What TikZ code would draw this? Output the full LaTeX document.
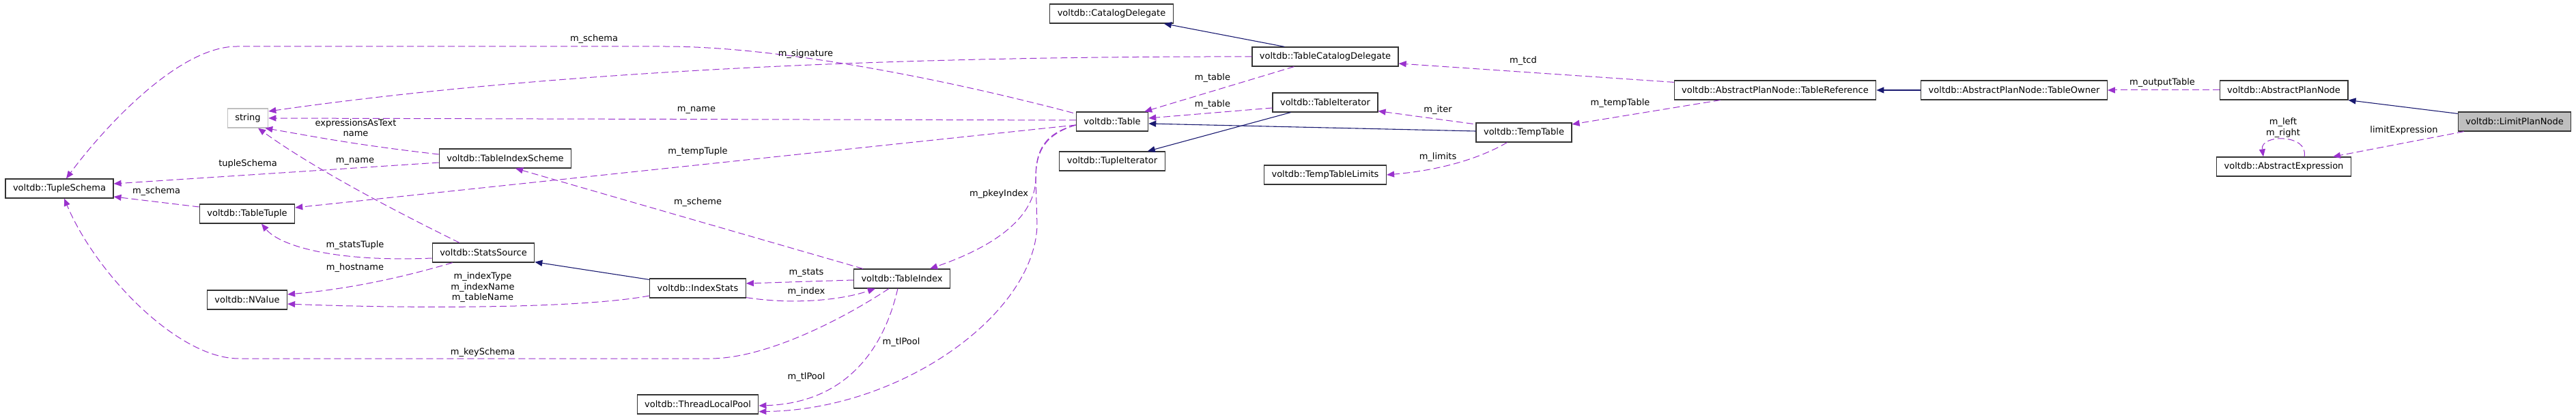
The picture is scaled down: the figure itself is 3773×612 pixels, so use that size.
\documentclass[tikz,border=0pt]{standalone}
\usepackage{fontspec}
\setmainfont{DejaVu Sans}
\usepackage{xcolor}
\usepackage{tikz}
\usetikzlibrary{arrows.meta,positioning,calc}

\definecolor{usecol}{HTML}{9A32CD}
\definecolor{inhcol}{HTML}{191970}
\definecolor{greybox}{HTML}{BFBFBF}
\newcommand{\gfont}{\fontsize{13}{15.5}\selectfont}

\begin{document}
\begin{tikzpicture}[
  x=1pt, y=-1pt,
  cls/.style={draw=black!80, line width=1.2pt, fill=white, minimum height=28pt,
    inner xsep=11pt, inner ysep=0pt, font=\gfont},
  ext/.style={cls, draw=greybox},
  cur/.style={cls, fill=greybox},
  use/.style={draw=usecol, line width=1pt, dash pattern=on 10pt off 5pt,
    -{Triangle[length=11pt, width=9pt, fill=usecol]}},
  inh/.style={draw=inhcol, line width=1.1pt,
    -{Triangle[length=11pt, width=9pt, fill=inhcol]}},
  lbl/.style={font=\gfont, inner sep=0pt, align=center},
]
\useasboundingbox (0,0) rectangle (3773,612);

% Classes
\node[cls] (catdel) at (1628,20) {voltdb::CatalogDelegate};
\node[cls] (tcd) at (1941,83) {voltdb::TableCatalogDelegate};
\node[cls] (tref) at (2600,132) {voltdb::AbstractPlanNode::TableReference};
\node[cls] (towner) at (2950,132) {voltdb::AbstractPlanNode::TableOwner};
\node[cls] (apn) at (3345,132) {voltdb::AbstractPlanNode};
\node[cur] (lpn) at (3683,178) {voltdb::LimitPlanNode};
\node[cls] (aexpr) at (3345,244) {voltdb::AbstractExpression};
\node[ext] (str) at (363,173) {string};
\node[cls] (tbl) at (1629,178) {voltdb::Table};
\node[cls] (titer) at (1941,150) {voltdb::TableIterator};
\node[cls] (ttab) at (2232,194) {voltdb::TempTable};
\node[cls] (tupit) at (1629,236) {voltdb::TupleIterator};
\node[cls] (ttlim) at (1941,256) {voltdb::TempTableLimits};
\node[cls] (tsch) at (87,276) {voltdb::TupleSchema};
\node[cls] (tis) at (740,232) {voltdb::TableIndexScheme};
\node[cls] (ttup) at (362,313) {voltdb::TableTuple};
\node[cls] (ssrc) at (708,370) {voltdb::StatsSource};
\node[cls] (nval) at (362,439) {voltdb::NValue};
\node[cls] (istats) at (1022,422) {voltdb::IndexStats};
\node[cls] (tidx) at (1321,408) {voltdb::TableIndex};
\node[cls] (tlp) at (1022,592) {voltdb::ThreadLocalPool};

% Inheritance
\draw[inh] ($(tcd.north west)+(48,0)$) -- ($(catdel.south east)+(-14,0)$);
\draw[inh] ($(ttab.west)+(0,-2)$) -- ($(tbl.east)+(0,3)$);
\draw[inh] ($(titer.south west)+(27,0)$) -- ($(tupit.north east)+(-26,0)$);
\draw[inh] ($(istats.north west)+(0,2)$) -- ($(ssrc.south east)+(0,-1)$);
\draw[inh] (towner) -- (tref);
\draw[inh] ($(lpn.north west)+(0,3)$) -- (apn.south east);

% Usage: right part
\draw[use] ($(tcd.south west)+(62,0)$) -- ($(tbl.north east)+(-6,0)$);
\draw[use] ($(titer.west)+(0,8)$) -- ($(tbl.east)+(0,-5)$);
\draw[use] ($(ttab.north west)+(-4,2)$) -- ($(titer.south east)+(0,-2)$);
\draw[use] ($(ttab.south west)+(46,0)$) .. controls (2160,236) and (2100,250) .. (ttlim.east);
\draw[use] ($(tref.north west)+(0,3)$) -- ($(tcd.east)+(0,10)$);
\draw[use] ($(tref.south west)+(68,0)$) -- ($(ttab.east)+(0,-12)$);
\draw[use] (apn) -- (towner);
\draw[use] ($(lpn.south west)+(9,0)$) -- ($(aexpr.north east)+(-27,0)$);
\draw[use] ($(aexpr.north)+(30,0)$) .. controls (3382,196) and (3310,196) .. ($(aexpr.north)+(-30,0)$);

\node[lbl] (ltab1) at (1776,114) {m\_table};
\node[lbl] (ltab2) at (1776,153) {m\_table};
\node[lbl] (liter) at (2106,161) {m\_iter};
\node[lbl] (llim) at (2106,230) {m\_limits};
\node[lbl] (ltcd) at (2231,89) {m\_tcd};
\node[lbl] (ltmp) at (2373,151) {m\_tempTable};
\node[lbl] (lout) at (3167,121) {m\_outputTable};
\node[lbl] (llimx) at (3521,191) {limitExpression};
\node[lbl] (lself) at (3344,187) {m\_left\\m\_right};

% Usage: from voltdb::Table
\draw[use] ($(tbl.west)+(0,-2)$) -- (str.east);
\draw[use] (tcd.west) .. controls (1300,82) and (800,105) .. ($(str.east)+(0,-10)$);
\draw[use] ($(tbl.north west)+(-4,2)$) .. controls (1400,120) and (1150,68) .. (973,68)
  -- (347,68) .. controls (260,68) and (150,190) .. ($(tsch.north)+(10,0)$);
\draw[use] ($(tbl.west)+(0,5)$) -- ($(ttup.east)+(0,-9)$);
\draw[use] ($(tbl.west)+(0,5)$) .. controls (1530,195) and (1517,220) .. (1517,260)
  .. controls (1517,330) and (1430,370) .. ($(tidx.north east)+(-30,0)$);
\draw[use] ($(tbl.west)+(0,5)$) .. controls (1530,197) and (1517,222) .. (1517,262)
  -- (1519,330) .. controls (1515,460) and (1320,600) .. ($(tlp.south east)+(0,-4)$);

\node[lbl] (lsch1) at (870,57) {m\_schema};
\node[lbl] (lsig) at (1180,79) {m\_signature};
\node[lbl] (lnam1) at (1020,161) {m\_name};
\node[lbl] (ltup) at (1022,222) {m\_tempTuple};
\node[lbl] (lpkey) at (1463,284) {m\_pkeyIndex};
\node[lbl] (lpool1) at (1181,552) {m\_tlPool};

% Usage: left part
\draw[use] ($(tis.west)+(0,-6)$) .. controls (520,212) and (460,200) .. ($(str.south east)+(-5,0)$);
\draw[use] ($(tis.west)+(0,6)$) -- ($(tsch.east)+(0,-7)$);
\draw[use] ($(ttup.west)+(0,-10)$) -- ($(tsch.east)+(0,12)$);
\draw[use] ($(ssrc.north)+(-35,0)$) .. controls (560,300) and (450,240) .. ($(str.south)+(15,0)$);
\draw[use] ($(ssrc.west)+(0,8)$) .. controls (490,384) and (410,360) .. ($(ttup.south)+(21,0)$);
\draw[use] ($(ssrc.south west)+(30,0)$) .. controls (560,415) and (480,426) .. ($(nval.east)+(0,-8)$);
\draw[use] ($(istats.west)+(0,11)$) .. controls (850,452) and (600,452) .. ($(nval.east)+(0,6)$);
\draw[use] ($(tidx.north west)+(14,0)$) -- ($(tis.south)+(15,0)$);
\draw[use] ($(tidx.west)+(0,2)$) -- ($(istats.east)+(0,-7)$);
\draw[use] ($(istats.south east)+(0,-1)$) .. controls (1160,446) and (1230,440) .. ($(tidx.south west)+(32,0)$);
\draw[use] ($(tidx.south west)+(52,0)$) .. controls (1230,470) and (1120,525) .. (1040,525)
  -- (350,525) .. controls (260,525) and (140,400) .. ($(tsch.south)+(7,0)$);
\draw[use] ($(tidx.south west)+(65,0)$) .. controls (1295,510) and (1240,590) .. ($(tlp.east)+(0,2)$);

\node[lbl] (lexpr) at (521,187) {expressionsAsText\\name};
\node[lbl] (ltsch) at (363,240) {tupleSchema};
\node[lbl] (lsch2) at (229,280) {m\_schema};
\node[lbl] (lnam2) at (520,236) {m\_name};
\node[lbl] (lstup) at (520,359) {m\_statsTuple};
\node[lbl] (lhost) at (520,392) {m\_hostname};
\node[lbl] (lidx3) at (707,421) {m\_indexType\\m\_indexName\\m\_tableName};
\node[lbl] (lschm) at (1022,296) {m\_scheme};
\node[lbl] (lstat) at (1181,399) {m\_stats};
\node[lbl] (lindx) at (1181,427) {m\_index};
\node[lbl] (lkey) at (707,516) {m\_keySchema};
\node[lbl] (lpool2) at (1320,501) {m\_tlPool};

\end{tikzpicture}
\end{document}
